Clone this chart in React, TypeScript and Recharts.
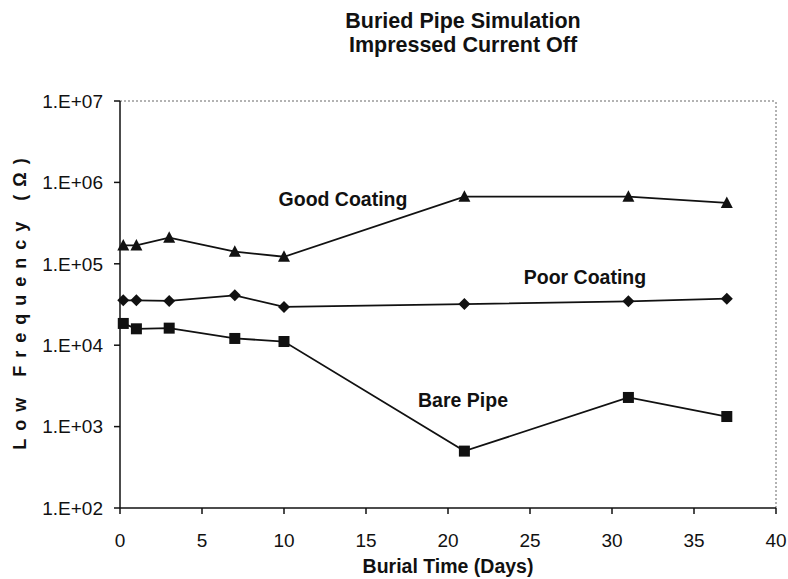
import { LineChart, Line, XAxis, YAxis, ReferenceLine } from "recharts";

const days = [0.2, 1, 3, 7, 10, 21, 31, 37];
const goodCoating = [168000, 168000, 209000, 141000, 122000, 667000, 667000, 560000];
const poorCoating = [35600, 35600, 35000, 41000, 29500, 32000, 34600, 37300];
const barePipe = [18500, 15900, 16200, 12100, 11100, 500, 2280, 1330];

const xTicks = [0, 5, 10, 15, 20, 25, 30, 35, 40];
const yTicks = [1e2, 1e3, 1e4, 1e5, 1e6, 1e7];

const chartData = days.map((d, i) => ({
    day: d,
    good: goodCoating[i],
    poor: poorCoating[i],
    bare: barePipe[i],
}));

const FONT = "'Liberation Sans', Arial, sans-serif";
const INK = "#111";

const sciLabel = (v: number) => `1.E+${String(Math.round(Math.log10(v))).padStart(2, "0")}`;

const Triangle = (props: any) => {
    const { cx, cy, index } = props;
    if (cx == null || cy == null) return null;
    return <path key={`t-${index}`} d={`M${cx},${cy - 6.5} L${cx + 6},${cy + 5} L${cx - 6},${cy + 5} Z`} fill={INK} />;
};

const Diamond = (props: any) => {
    const { cx, cy, index } = props;
    if (cx == null || cy == null) return null;
    return <path key={`d-${index}`} d={`M${cx},${cy - 6} L${cx + 6},${cy} L${cx},${cy + 6} L${cx - 6},${cy} Z`} fill={INK} />;
};

const Square = (props: any) => {
    const { cx, cy, index } = props;
    if (cx == null || cy == null) return null;
    return <rect key={`s-${index}`} x={cx - 5.5} y={cy - 5.5} width={11} height={11} fill={INK} />;
};

const textStyle: React.CSSProperties = {
    position: "absolute",
    fontFamily: FONT,
    fontWeight: "bold",
    color: INK,
    whiteSpace: "nowrap",
    lineHeight: 1,
    transform: "translate(-50%, -50%)",
};

export default function App() {
    return (
        <div style={{ position: "absolute", left: 0, top: 0, width: 788, height: 579, background: "#fff" }}>
            <LineChart
                width={788}
                height={579}
                data={chartData}
                margin={{ top: 101, right: 12, bottom: 0, left: 0 }}
            >
                <XAxis
                    dataKey="day"
                    type="number"
                    domain={[0, 40]}
                    ticks={xTicks}
                    height={71}
                    tickSize={6}
                    stroke={INK}
                    strokeWidth={1.5}
                    tick={{ fill: INK, fontSize: 19, fontFamily: FONT }}
                    tickMargin={20}
                    interval={0}
                />
                <YAxis
                    type="number"
                    scale="log"
                    domain={[100, 1e7]}
                    ticks={yTicks}
                    allowDataOverflow
                    width={120}
                    tickSize={6}
                    stroke={INK}
                    strokeWidth={1.5}
                    tickFormatter={sciLabel}
                    tick={{ fill: INK, fontSize: 19, fontFamily: FONT }}
                    tickMargin={11}
                    interval={0}
                />
                <ReferenceLine y={1e7} stroke="#666" strokeDasharray="2 2" />
                <ReferenceLine x={40} stroke="#666" strokeDasharray="2 2" />
                <Line dataKey="good" type="linear" stroke={INK} strokeWidth={1.8} dot={Triangle} activeDot={false} isAnimationActive={false} />
                <Line dataKey="poor" type="linear" stroke={INK} strokeWidth={1.8} dot={Diamond} activeDot={false} isAnimationActive={false} />
                <Line dataKey="bare" type="linear" stroke={INK} strokeWidth={1.8} dot={Square} activeDot={false} isAnimationActive={false} />
            </LineChart>

            <div style={{ ...textStyle, left: 463, top: 22, fontSize: 21.5 }}>Buried Pipe Simulation</div>
            <div style={{ ...textStyle, left: 463, top: 46, fontSize: 21.5 }}>Impressed Current Off</div>

            <div style={{ ...textStyle, left: 343, top: 200, fontSize: 19.5 }}>Good Coating</div>
            <div style={{ ...textStyle, left: 585, top: 278, fontSize: 19.5 }}>Poor Coating</div>
            <div style={{ ...textStyle, left: 463, top: 401, fontSize: 19.5 }}>Bare Pipe</div>

            <div style={{ ...textStyle, left: 448, top: 567, fontSize: 19.5 }}>Burial Time (Days)</div>
            <div
                style={{
                    ...textStyle,
                    left: 20,
                    top: 300,
                    fontSize: 18,
                    letterSpacing: 8,
                    transform: "translate(-50%, -50%) rotate(-90deg)",
                }}
            >
                Low Frequency (Ω)
            </div>
        </div>
    );
}
